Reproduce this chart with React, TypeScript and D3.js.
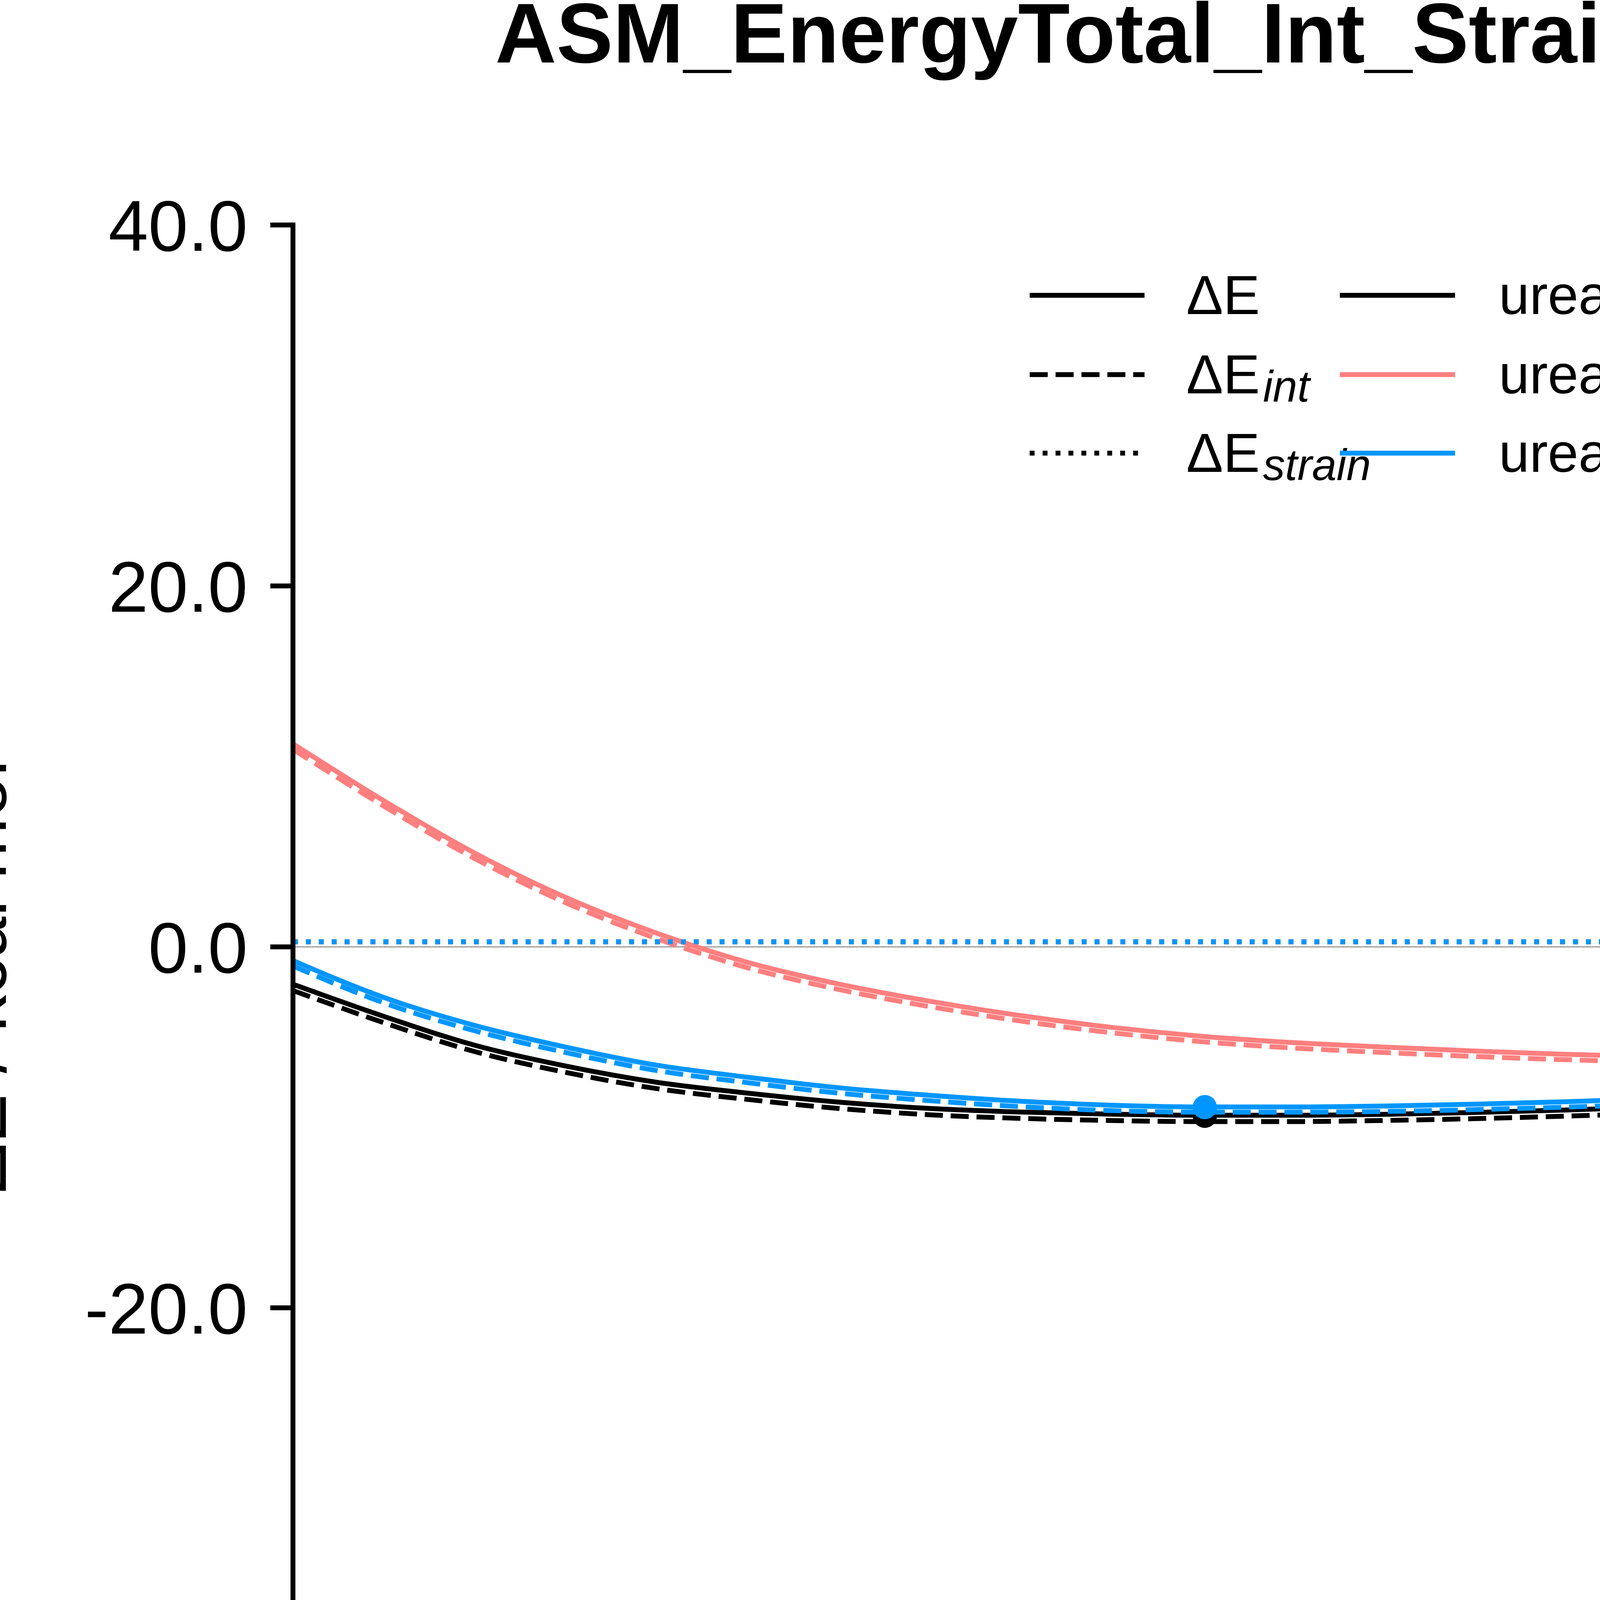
import * as d3 from "d3";

// distance from equilibrium, Å
const rShift = [-0.5, -0.45, -0.4, -0.35, -0.3, -0.25, -0.2, -0.15, -0.1, -0.05, 0, 0.05, 0.1, 0.15, 0.2, 0.25, 0.3, 0.35, 0.4, 0.45, 0.5];

// ureas_di_O_Cs_all
const allE = [-2.07, -3.85, -5.45, -6.6, -7.5, -8.1, -8.6, -8.95, -9.15, -9.27, -9.33, -9.33, -9.28, -9.18, -9.04, -8.88, -8.7, -8.45, -8.18, -7.85, -7.52];
const allInt = [-2.42, -4.2, -5.8, -6.95, -7.85, -8.45, -8.95, -9.3, -9.5, -9.62, -9.68, -9.68, -9.62, -9.52, -9.38, -9.22, -9.03, -8.78, -8.5, -8.18, -7.84];
const allStrain = [0.28, 0.28, 0.28, 0.28, 0.28, 0.28, 0.28, 0.28, 0.28, 0.28, 0.28, 0.28, 0.28, 0.28, 0.28, 0.28, 0.28, 0.28, 0.28, 0.28, 0.28];

// ureas_di_O_Cs_pi
const piE = [11.25, 8.1, 5.2, 2.75, 0.77, -0.85, -2.05, -3.0, -3.8, -4.45, -4.95, -5.3, -5.55, -5.77, -5.95, -6.08, -6.16, -6.2, -6.16, -6.09, -6.0];
const piInt = [10.95, 7.8, 4.9, 2.45, 0.47, -1.15, -2.35, -3.3, -4.1, -4.75, -5.25, -5.6, -5.85, -6.07, -6.25, -6.38, -6.46, -6.5, -6.46, -6.39, -6.3];
const piStrain = [0.28, 0.28, 0.28, 0.28, 0.28, 0.28, 0.28, 0.28, 0.28, 0.28, 0.28, 0.28, 0.28, 0.28, 0.28, 0.28, 0.28, 0.28, 0.28, 0.28, 0.28];

// ureas_di_O_Cs_sigma
const sigmaE = [-0.76, -2.8, -4.35, -5.55, -6.55, -7.22, -7.8, -8.22, -8.55, -8.77, -8.87, -8.87, -8.82, -8.72, -8.58, -8.42, -8.22, -8.0, -7.79, -7.55, -7.29];
const sigmaInt = [-1.06, -3.1, -4.65, -5.85, -6.85, -7.52, -8.1, -8.52, -8.85, -9.07, -9.16, -9.16, -9.12, -9.02, -8.88, -8.72, -8.52, -8.3, -8.09, -7.85, -7.58];
const sigmaStrain = [0.28, 0.28, 0.28, 0.28, 0.28, 0.28, 0.28, 0.28, 0.28, 0.28, 0.28, 0.28, 0.28, 0.28, 0.28, 0.28, 0.28, 0.28, 0.28, 0.28, 0.28];

// minimum of each ΔE curve
const systems = ["ureas_di_O_Cs_all", "ureas_di_O_Cs_pi", "ureas_di_O_Cs_sigma"];
const colors = ["#000000", "#ff7f7f", "#0096ff"];
const minX = [0.002, 0.335, 0.002];
const minY = [-9.36, -6.2, -8.88];

const xTicks = [-0.4, -0.2, 0.0, 0.2, 0.4];
const yTicks = [-40, -20, 0, 20, 40];

const W = 6000;
const H = 4800;
const margin = { left: 750, right: 600, top: 576, bottom: 528 };
const FONT = "'Liberation Sans', Arial, sans-serif";
const LW = 12.5;
const DASH = "46.25,20";
const DOT = "12.5,20.6";

export default function App() {
  const x = d3.scaleLinear().domain([-0.5, 0.5]).range([margin.left, W - margin.right]);
  const y = d3.scaleLinear().domain([-40, 40]).range([H - margin.bottom, margin.top]);

  const line = d3.line<number>()
    .x((_, i) => x(rShift[i]))
    .y(d => y(d))
    .curve(d3.curveMonotoneX);

  const series = [
    [allE, allInt, allStrain],
    [piE, piInt, piStrain],
    [sigmaE, sigmaInt, sigmaStrain],
  ];
  const styles = [undefined, DASH, DOT];

  const [x0, x1] = x.range();
  const [yb, yt] = y.range();

  const legendRows = [756, 959, 1160];

  return (
    <svg width={W} height={H} viewBox={`0 0 ${W} ${H}`}
      style={{ position: "absolute", left: 0, top: 0, background: "#fff" }}
      fontFamily={FONT}>
      <rect x={0} y={0} width={W} height={H} fill="#fff" />
      <defs>
        <clipPath id="plot">
          <rect x={x0} y={yt} width={x1 - x0} height={yb - yt} />
        </clipPath>
      </defs>

      <text x={W / 2} y={160} textAnchor="middle" fontSize={217} fontWeight="bold">
        ASM_EnergyTotal_Int_StrainTotal
      </text>

      {/* zero line */}
      <line x1={x0} x2={x1} y1={y(0)} y2={y(0)} stroke="#999" strokeWidth={3} />

      <g clipPath="url(#plot)">
        {series.map((group, si) => (
          <g key={systems[si]}>
            {group.map((vals, li) => (
              <path key={li} d={line(vals) ?? ""} fill="none" stroke={colors[si]}
                strokeWidth={LW} strokeDasharray={styles[li]}
                strokeLinecap={li === 0 ? "square" : "butt"} strokeLinejoin="round" />
            ))}
            <circle cx={x(minX[si])} cy={y(minY[si])} r={31} fill={colors[si]} />
          </g>
        ))}
      </g>

      {/* axes */}
      <g stroke="#000" strokeWidth={LW} strokeLinecap="square">
        <line x1={x0} x2={x0} y1={yt} y2={yb} />
        <line x1={x0} x2={x1} y1={yb} y2={yb} />
      </g>
      {yTicks.map(t => (
        <g key={t}>
          <line x1={x0 - 58} x2={x0} y1={y(t)} y2={y(t)} stroke="#000" strokeWidth={LW} />
          <text x={x0 - 116} y={y(t)} dy="0.36em" textAnchor="end" fontSize={183}>
            {t.toFixed(1)}
          </text>
        </g>
      ))}
      {xTicks.map(t => (
        <g key={t}>
          <line x1={x(t)} x2={x(t)} y1={yb} y2={yb + 58} stroke="#000" strokeWidth={LW} />
          <text x={x(t)} y={yb + 240} textAnchor="middle" fontSize={183}>
            {t.toFixed(1)}
          </text>
        </g>
      ))}

      {/* axis labels */}
      <text x={(x0 + x1) / 2} y={4880} textAnchor="middle" fontSize={183}>
        <tspan fontStyle="italic">r</tspan>
        <tspan> − </tspan>
        <tspan fontStyle="italic">r</tspan>
        <tspan fontStyle="italic" fontSize={128} dy={30}>eq</tspan>
        <tspan dy={-30}> / Å</tspan>
      </text>
      <text transform={`translate(15, ${y(0)}) rotate(-90)`} textAnchor="middle" fontSize={190}>
        ΔE / kcal mol<tspan fontSize={133} dy={-80}>−1</tspan>
      </text>

      {/* legend */}
      <g>
        {styles.map((s, i) => (
          <line key={i} x1={2636} x2={2930} y1={legendRows[i]} y2={legendRows[i]}
            stroke="#000" strokeWidth={LW} strokeDasharray={s} />
        ))}
        <text x={3037} y={legendRows[0] + 48} fontSize={141}>ΔE</text>
        <text x={3037} y={legendRows[1] + 48} fontSize={141}>
          ΔE<tspan fontStyle="italic" fontSize={113} dy={21} dx={8}>int</tspan>
        </text>
        <text x={3037} y={legendRows[2] + 48} fontSize={141}>
          ΔE<tspan fontStyle="italic" fontSize={113} dy={21} dx={8}>strain</tspan>
        </text>
        {systems.map((name, i) => (
          <g key={name}>
            <line x1={3430} x2={3725} y1={legendRows[i]} y2={legendRows[i]}
              stroke={colors[i]} strokeWidth={LW} />
            <text x={3837} y={legendRows[i] + 48} fontSize={141}>{name}</text>
          </g>
        ))}
      </g>
    </svg>
  );
}
